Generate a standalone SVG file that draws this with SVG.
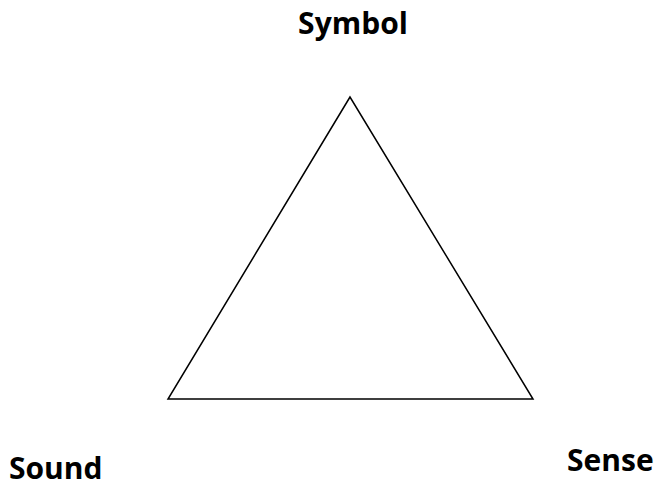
<svg xmlns="http://www.w3.org/2000/svg" width="658" height="484" viewBox="0 0 658 484">
<style>
.lbl{font-family:"Open Sans","Liberation Sans",sans-serif;font-weight:bold;font-size:30px;fill:#000}
.edge{fill:none;stroke:#000;stroke-width:1.5}
</style>
<rect width="658" height="484" fill="#fff"/>
<g id="connectors">
<path class="edge" d="M350,97 L168,399 L533,399 Z"/>
</g>
<g id="symbol"><text class="lbl" x="353" y="34" text-anchor="middle">Symbol</text></g>
<g id="sound"><text class="lbl" x="9" y="479">Sound</text></g>
<g id="sense"><text class="lbl" x="567" y="471">Sense</text></g>
</svg>
